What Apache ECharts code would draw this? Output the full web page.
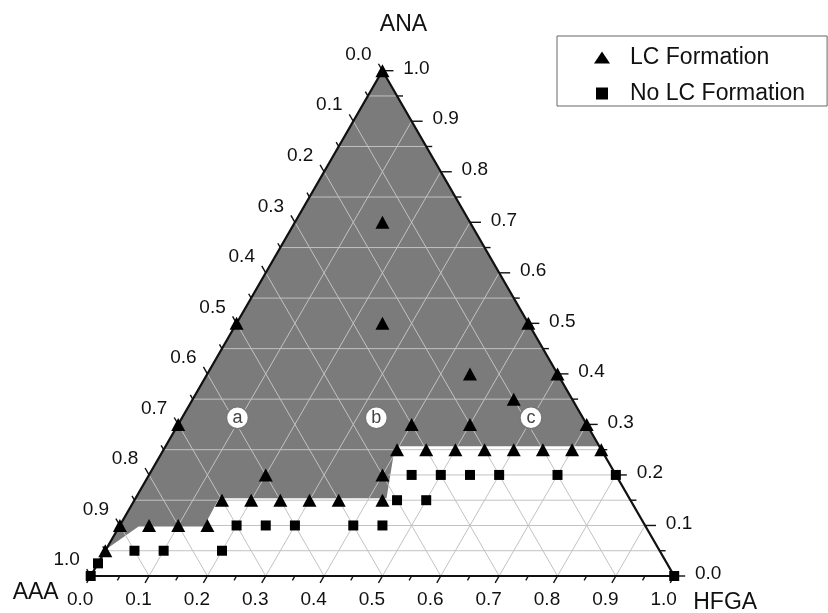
<!DOCTYPE html>
<html>
<head>
<meta charset="utf-8">
<script src="https://cdn.jsdelivr.net/npm/echarts@6/dist/echarts.min.js"></script>
<style>
html,body{margin:0;padding:0;background:#fff;}
#chart{width:828px;height:613px;}
</style>
</head>
<body>
<div id="chart"></div>
<script>
// ---- axis ticks (fractions) ----
const majorTicks = [0, 0.1, 0.2, 0.3, 0.4, 0.5, 0.6, 0.7, 0.8, 0.9, 1.0];
const tickLabels = ['0.0', '0.1', '0.2', '0.3', '0.4', '0.5', '0.6', '0.7', '0.8', '0.9', '1.0'];
const minorTicks = [0.05, 0.15, 0.25, 0.35, 0.45, 0.55, 0.65, 0.75, 0.85, 0.95];
const axisNames = ['AAA', 'HFGA', 'ANA'];

// ---- data points: [HFGA, ANA]  (AAA = 1 - HFGA - ANA) ----
const lcFormation = [
  [0, 1.0], [0.15, 0.7], [0, 0.5], [0.25, 0.5], [0.5, 0.5],
  [0.45, 0.4], [0.6, 0.4], [0.55, 0.35],
  [0, 0.3], [0.4, 0.3], [0.5, 0.3], [0.7, 0.3],
  [0.4, 0.25], [0.45, 0.25], [0.5, 0.25], [0.55, 0.25], [0.6, 0.25], [0.65, 0.25], [0.7, 0.25], [0.75, 0.25],
  [0.2, 0.2], [0.4, 0.2],
  [0.15, 0.15], [0.2, 0.15], [0.25, 0.15], [0.3, 0.15], [0.35, 0.15], [0.425, 0.15],
  [0, 0.1], [0.05, 0.1], [0.1, 0.1], [0.15, 0.1],
  [0, 0.05]
];
const noLcFormation = [
  [0, 0], [0, 0.025],
  [0.05, 0.05], [0.1, 0.05], [0.2, 0.05],
  [0.2, 0.1], [0.25, 0.1], [0.3, 0.1], [0.4, 0.1], [0.45, 0.1],
  [0.45, 0.15], [0.5, 0.15],
  [0.45, 0.2], [0.5, 0.2], [0.55, 0.2], [0.6, 0.2], [0.7, 0.2], [0.8, 0.2],
  [1.0, 0]
];

// ---- LC region boundary: [HFGA, ANA] ----
const lcRegion = [
  [0, 1.0], [0.743, 0.257], [0.393, 0.257], [0.43, 0.154],
  [0.143, 0.154], [0.145, 0.098], [0.033, 0.098], [0, 0.053]
];
// extra horizontal grid lines in lower (white) region: [HFGA start, HFGA end, ANA]
const lowerHorizontals = [[0.145, 0.9, 0.1], [0.41, 0.8, 0.2]];

// ---- region labels ----
const regionNames = ['a', 'b', 'c'];
const regionPos = [[0.095, 0.313], [0.333, 0.313], [0.598, 0.313]];

// ternary -> cartesian data space
function tern(h, n) { return [h + n / 2, n]; }

const FONT = '"Liberation Sans", Arial, Helvetica, sans-serif';

function renderFrame(params, api) {
  const P = (h, n) => api.coord(tern(h, n));
  const ch = [];
  // shaded LC region
  ch.push({ type: 'polygon', shape: { points: lcRegion.map(p => P(p[0], p[1])) }, style: { fill: '#7b7b7b' } });
  const gridStyle = { stroke: '#c2c2c2', lineWidth: 1 };
  const line = (a, b, st) => ch.push({ type: 'line', shape: { x1: a[0], y1: a[1], x2: b[0], y2: b[1] }, style: st });
  majorTicks.slice(1, -1).forEach(t => {
    line(P(t, 0), P(t, 1 - t), gridStyle);         // constant HFGA
    line(P(1 - t, 0), P(0, 1 - t), gridStyle);     // constant AAA
  });
  minorTicks.forEach(n => line(P(0, n), P(1 - n, n), gridStyle)); // horizontal (ANA)
  lowerHorizontals.forEach(s => line(P(s[0], s[2]), P(s[1], s[2]), gridStyle));
  // edges
  ch.push({ type: 'polygon', shape: { points: [P(0, 0), P(1, 0), P(0, 1)] },
            style: { fill: 'none', stroke: '#111', lineWidth: 2.2 } });
  const tickSt = { stroke: '#111', lineWidth: 1.4 };
  const text = (x, y, s, size) => ch.push({ type: 'text', x: x, y: y,
      style: { text: s, fill: '#111', font: size + 'px ' + FONT, align: 'center', verticalAlign: 'middle' } });
  const dB = [-0.5, 0.866], dL = [-0.5, -0.866], dR = [1, 0];
  const tick = (p, d, len) => line(p, [p[0] + d[0] * len, p[1] + d[1] * len], tickSt);
  majorTicks.forEach((v, i) => {
    const pb = P(v, 0); tick(pb, dB, 8); text(pb[0] - 10.5, pb[1] + 23.5, tickLabels[i], 19);
    const pl = P(0, 1 - v); tick(pl, dL, 8); text(pl[0] - 24, pl[1] - 16, tickLabels[i], 19);
    const pr = P(1 - v, v); tick(pr, dR, 11); text(pr[0] + 34, pr[1] - 2, tickLabels[i], 19);
  });
  minorTicks.forEach(v => {
    tick(P(v, 0), dB, 5); tick(P(0, 1 - v), dL, 5); tick(P(1 - v, v), dR, 6);
  });
  // axis titles
  const bl = P(0, 0), br = P(1, 0), ap = P(0, 1);
  text(bl[0] - 55, bl[1] + 17, axisNames[0], 23);
  text(br[0] + 51, br[1] + 27, axisNames[1], 23);
  text(ap[0] + 21, ap[1] - 46, axisNames[2], 23);
  return { type: 'group', children: ch };
}

const chart = echarts.init(document.getElementById('chart'), null, { renderer: 'canvas' });
chart.setOption({
  animation: false,
  grid: { left: 90.7, top: 70.7, width: 583.5, height: 505.3 },
  xAxis: { type: 'value', min: 0, max: 1, show: false },
  yAxis: { type: 'value', min: 0, max: 1, show: false },
  legend: {
    data: [
      { name: 'LC Formation', icon: 'triangle' },
      { name: 'No LC Formation', icon: 'path://M0,0L10,0L10,10L0,10Z' }
    ],
    orient: 'vertical', left: 557, top: 36,
    padding: [9, 22, 0, 37], itemGap: 11,
    itemWidth: 16, itemHeight: 12,
    borderColor: '#666', borderWidth: 1,
    selectedMode: false,
    textStyle: { fontSize: 23, lineHeight: 25, color: '#111', fontFamily: FONT, padding: [0, 0, 0, 15] }
  },
  series: [
    { type: 'custom', name: 'frame', renderItem: renderFrame, data: [0], z: 1, silent: true, clip: false },
    { type: 'scatter', name: 'LC Formation', symbol: 'triangle', symbolSize: [14, 13],
      itemStyle: { color: '#000', opacity: 1 }, z: 3,
      data: lcFormation.map(p => tern(p[0], p[1])) },
    { type: 'scatter', name: 'No LC Formation', symbol: 'path://M0,0L10,0L10,10L0,10Z', symbolKeepAspect: true,
      symbolSize: 10, itemStyle: { color: '#000', opacity: 1 }, z: 3,
      data: noLcFormation.map(p => tern(p[0], p[1])) },
    { type: 'scatter', name: 'regions', symbol: 'circle', symbolSize: 22, z: 4,
      itemStyle: { color: '#fff', borderColor: '#777', borderWidth: 1.5, opacity: 1 },
      label: { show: true, position: 'inside', formatter: '{b}', color: '#444', fontSize: 18, fontFamily: FONT },
      data: regionNames.map((nm, i) => ({ name: nm, value: tern(regionPos[i][0], regionPos[i][1]) })) }
  ]
});
</script>
</body>
</html>
